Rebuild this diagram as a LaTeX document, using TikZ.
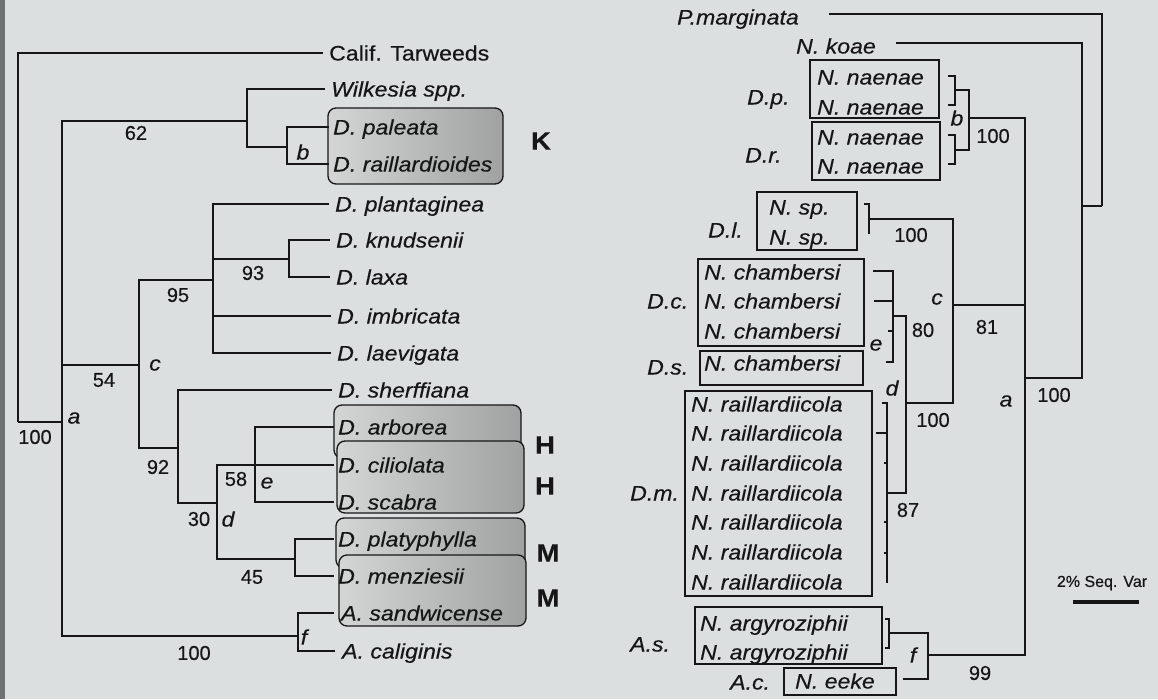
\documentclass[tikz,border=0pt]{standalone}
\usepackage{fontspec}
\setmainfont{Liberation Sans}[FakeStretch=1.1,FakeBold=0.35]
\newfontfamily\numfont{Liberation Sans}[FakeBold=0.35]
\definecolor{bg}{RGB}{219,223,223}
\definecolor{ink}{RGB}{22,22,22}
\definecolor{shadeL}{RGB}{212,214,214}
\definecolor{shadeR}{RGB}{160,162,162}
\definecolor{edge}{RGB}{110,114,114}
\begin{document}
\begin{tikzpicture}[x=1pt,y=-1pt,
  tree/.style={draw=ink,line width=1.8pt},
  brk/.style={draw=ink,line width=1.5pt},
  leaf/.style={anchor=west,inner sep=0pt,text=ink,font=\fontsize{21}{24}\selectfont\itshape,text height=15pt,text depth=0pt},
  leafup/.style={leaf,font=\fontsize{21}{24}\selectfont},
  num/.style={inner sep=0pt,text=ink,font=\numfont\fontsize{20}{22}\selectfont},
  let/.style={inner sep=0pt,text=ink,font=\fontsize{21}{24}\selectfont\itshape},
  grp/.style={inner sep=0pt,text=ink,font=\fontsize{25}{28}\selectfont\bfseries},
  gbox/.style={draw=ink,line width=1.3pt,rounded corners=8pt,left color=shadeL,right color=shadeR},
  hbox/.style={draw=ink,line width=1.1pt},
]
\useasboundingbox (0,0) rectangle (1158,699);
\fill[bg] (0,0) rectangle (1158,699);
\fill[edge] (0,0) rectangle (5,699);

% ---------------- left tree: shaded boxes ----------------
\path[gbox] (328,108) rectangle (503,184);
\path[gbox] (334,405) rectangle (521,458);
\path[gbox] (337,441) rectangle (524,513);
\path[gbox] (336,518) rectangle (525,568);
\path[gbox] (339,555) rectangle (526,626);

% ---------------- left tree: leaves ----------------
\node[leafup] (calif) at (329,53) {Calif. Tarweeds};
\node[leaf] (wilk) at (331,89) {Wilkesia spp.};
\node[leaf] (pale) at (333,127) {D. paleata};
\node[leaf] (rail) at (333,164) {D. raillardioides};
\node[leaf] (plan) at (335,204) {D. plantaginea};
\node[leaf] (knud) at (336,240) {D. knudsenii};
\node[leaf] (laxa) at (336,277) {D. laxa};
\node[leaf] (imbr) at (337,316) {D. imbricata};
\node[leaf] (laev) at (337,353) {D. laevigata};
\node[leaf] (sher) at (338,390) {D. sherffiana};
\node[leaf] (arbo) at (338,427) {D. arborea};
\node[leaf] (cili) at (338,465) {D. ciliolata};
\node[leaf] (scab) at (338,502) {D. scabra};
\node[leaf] (plat) at (338,539) {D. platyphylla};
\node[leaf] (menz) at (338,576) {D. menziesii};
\node[leaf] (sand) at (341,613) {A. sandwicense};
\node[leaf] (cali) at (342,651) {A. caliginis};

% internal nodes
\coordinate (root) at (18,422);
\coordinate (na) at (62,422);
\coordinate (n62) at (247,121);
\coordinate (nb) at (287,147);
\coordinate (nc) at (139,365);
\coordinate (n95) at (213,280);
\coordinate (n93) at (289,259);
\coordinate (n92) at (178,448);
\coordinate (nd) at (217,503);
\coordinate (ne) at (255,465);
\coordinate (n45) at (295,559);
\coordinate (nf) at (298,636);

\draw[tree] (root) |- ([xshift=-6pt]calif.west);
\draw[tree] (root) -- (na);
\draw[tree] (na) |- (n62);
\draw[tree] (na) |- (nc);
\draw[tree] (na) |- (nf);
\draw[tree] (n62) |- ([xshift=-6pt]wilk.west);
\draw[tree] (n62) |- (nb);
\draw[tree] (nb) |- ([xshift=-4pt]pale.west);
\draw[tree] (nb) |- ([xshift=-4pt]rail.west);
\draw[tree] (nc) |- (n95);
\draw[tree] (nc) |- (n92);
\draw[tree] (n95) |- ([xshift=-6pt]plan.west);
\draw[tree] (n95) |- (n93);
\draw[tree] (n95) |- ([xshift=-6pt]imbr.west);
\draw[tree] (n95) |- ([xshift=-6pt]laev.west);
\draw[tree] (n93) |- ([xshift=-6pt]knud.west);
\draw[tree] (n93) |- ([xshift=-6pt]laxa.west);
\draw[tree] (n92) |- ([xshift=-6pt]sher.west);
\draw[tree] (n92) |- (nd);
\draw[tree] (nd) |- (ne);
\draw[tree] (nd) |- (n45);
\draw[tree] (ne) |- ([xshift=-4pt]arbo.west);
\draw[tree] (ne) |- ([xshift=-4pt]cili.west);
\draw[tree] (ne) |- ([xshift=-4pt]scab.west);
\draw[tree] (n45) |- ([xshift=-4pt]plat.west);
\draw[tree] (n45) |- ([xshift=-4pt]menz.west);
\draw[tree] (nf) |- ([xshift=-7pt]sand.west);
\draw[tree] (nf) |- ([xshift=-7pt]cali.west);

% labels left
\node[num] (l62) at (136,133) {62};
\node[num] (l100r) at (35,437) {100};
\node[let] (la) at (74,418) {a};
\node[let] (lb) at (303,152) {b};
\node[num] (l54) at (104,380) {54};
\node[let] (lc) at (155,365) {c};
\node[num] (l95) at (178,295) {95};
\node[num] (l93) at (253,273) {93};
\node[num] (l92) at (158,467) {92};
\node[num] (l30) at (199,519) {30};
\node[let] (ld) at (228,519) {d};
\node[num] (l58) at (236,479) {58};
\node[let] (le) at (267,483) {e};
\node[num] (l45) at (252,577) {45};
\node[let] (lf) at (304,637) {f};
\node[num] (l100f) at (194,653) {100};
\node[grp] (gK) at (541,141) {K};
\node[grp] (gH1) at (545,445) {H};
\node[grp] (gH2) at (545,486) {H};
\node[grp] (gM1) at (548,553) {M};
\node[grp] (gM2) at (548,598) {M};

% ---------------- right tree: boxes ----------------
\draw[hbox] (810,60) rectangle (939,118);
\draw[hbox] (812,122) rectangle (940,180);
\draw[hbox] (757,192) rectangle (857,250);
\draw[hbox] (698,259) rectangle (864,346);
\draw[hbox] (700,351) rectangle (863,385);
\draw[hbox] (685,391) rectangle (872,596);
\draw[hbox] (695,607) rectangle (882,664);
\draw[hbox] (784,668) rectangle (896,695);

% right leaves
\node[leaf] (pm) at (677,17) {P.marginata};
\node[leaf] (ko) at (796,46) {N. koae};
\node[leaf] (nn1) at (817,77) {N. naenae};
\node[leaf] (nn2) at (817,107) {N. naenae};
\node[leaf] (nn3) at (817,137) {N. naenae};
\node[leaf] (nn4) at (817,166) {N. naenae};
\node[leaf] (sp1) at (769,207) {N. sp.};
\node[leaf] (sp2) at (769,237) {N. sp.};
\node[leaf] (ch1) at (704,272) {N. chambersi};
\node[leaf] (ch2) at (704,301) {N. chambersi};
\node[leaf] (ch3) at (704,331) {N. chambersi};
\node[leaf] (ch4) at (704,363) {N. chambersi};
\node[leaf] (ra1) at (691,404) {N. raillardiicola};
\node[leaf] (ra2) at (691,433) {N. raillardiicola};
\node[leaf] (ra3) at (691,463) {N. raillardiicola};
\node[leaf] (ra4) at (691,493) {N. raillardiicola};
\node[leaf] (ra5) at (691,522) {N. raillardiicola};
\node[leaf] (ra6) at (691,552) {N. raillardiicola};
\node[leaf] (ra7) at (691,582) {N. raillardiicola};
\node[leaf] (ar1) at (700,623) {N. argyroziphii};
\node[leaf] (ar2) at (700,652) {N. argyroziphii};
\node[leaf] (ee) at (795,681) {N. eeke};
% host labels
\node[leaf] (hDp) at (747,97) {D.p.};
\node[leaf] (hDr) at (745,155) {D.r.};
\node[leaf] (hDl) at (708,230) {D.l.};
\node[leaf] (hDc) at (647,301) {D.c.};
\node[leaf] (hDs) at (647,367) {D.s.};
\node[leaf] (hDm) at (630,493) {D.m.};
\node[leaf] (hAs) at (630,644) {A.s.};
\node[leaf] (hAc) at (730,682) {A.c.};

% right internal nodes
\coordinate (rR) at (1102,206);
\coordinate (rk) at (1082,206);
\coordinate (ra) at (1025,378);
\coordinate (rb) at (969,118);
\coordinate (rc) at (953,305);
\coordinate (rd) at (906,403);
\coordinate (rf) at (928,655);
\coordinate (pmEnd) at (829,14);
\coordinate (koEnd) at (896,43);
\coordinate (eeEnd) at (903,679);
% bracket mid points
\coordinate (bDp) at (955,90);
\coordinate (bDr) at (955,150);
\coordinate (bDl) at (869,219);
\coordinate (bE) at (893,316);
\coordinate (bDm) at (887,493);
\coordinate (bAs) at (889,633);

\draw[tree] (rR) |- (pmEnd);
\draw[tree] (rR) -- (rk);
\draw[tree] (rk) |- (koEnd);
\draw[tree] (rk) |- (ra);
\draw[tree] (ra) |- (rb);
\draw[tree] (ra) |- (rc);
\draw[tree] (ra) |- (rf);
\draw[tree] (rb) |- (bDp);
\draw[tree] (rb) |- (bDr);
\draw[tree] (rc) |- (bDl);
\draw[tree] (rc) |- (rd);
\draw[tree] (rd) |- (bE);
\draw[tree] (rd) |- (bDm);
\draw[tree] (rf) |- (bAs);
\draw[tree] (rf) |- (eeEnd);

% brackets
\draw[brk] (bDp) |- (948,76);
\draw[brk] (bDp) |- (948,105);
\draw[brk] (bDr) |- (948,135);
\draw[brk] (bDr) |- (948,164);
\draw[brk] (bDl) |- (864,204);
\draw[brk] (bDl) -- (869,234);
\draw[brk] (bE) |- (873,271);
\draw[brk] (bE) |- (874,301);
\draw[brk] (bE) |- (888,331);
\draw[brk] (bE) |- (886,362);
\draw[brk] (bDm) |- (882,403);
\draw[brk] (bDm) |- (876,433);
\draw[brk] (bDm) |- (884,463);
\draw[brk] (bDm) -- (887,583);
\draw[brk] (bDm |- 0,522) -- (884,522);
\draw[brk] (bDm |- 0,553) -- (884,553);
\draw[brk] (bAs) |- (885,619);
\draw[brk] (bAs) |- (885,648);

% right labels
\node[let] (rlb) at (957,118) {b};
\node[num] (rl100b) at (993,136) {100};
\node[num] (rl100l) at (911,235) {100};
\node[let] (rlc) at (937,299) {c};
\node[num] (rl81) at (987,327) {81};
\node[num] (rl80) at (923,330) {80};
\node[let] (rle) at (876,345) {e};
\node[let] (rld) at (892,388) {d};
\node[num] (rl100d) at (933,420) {100};
\node[let] (rla) at (1006,401) {a};
\node[num] (rl100a) at (1054,395) {100};
\node[num] (rl87) at (908,510) {87};
\node[let] (rlf) at (913,655) {f};
\node[num] (rl99) at (980,673) {99};

% scale bar
\node[num,font=\numfont\fontsize{16}{18}\selectfont] (scl) at (1102,583) {2\% Seq. Var};
\coordinate (sbL) at (1073,602);
\coordinate (sbR) at (1139,602);
\draw[draw=ink,line width=3.5pt] (sbL) -- (sbR);
\end{tikzpicture}
\end{document}
